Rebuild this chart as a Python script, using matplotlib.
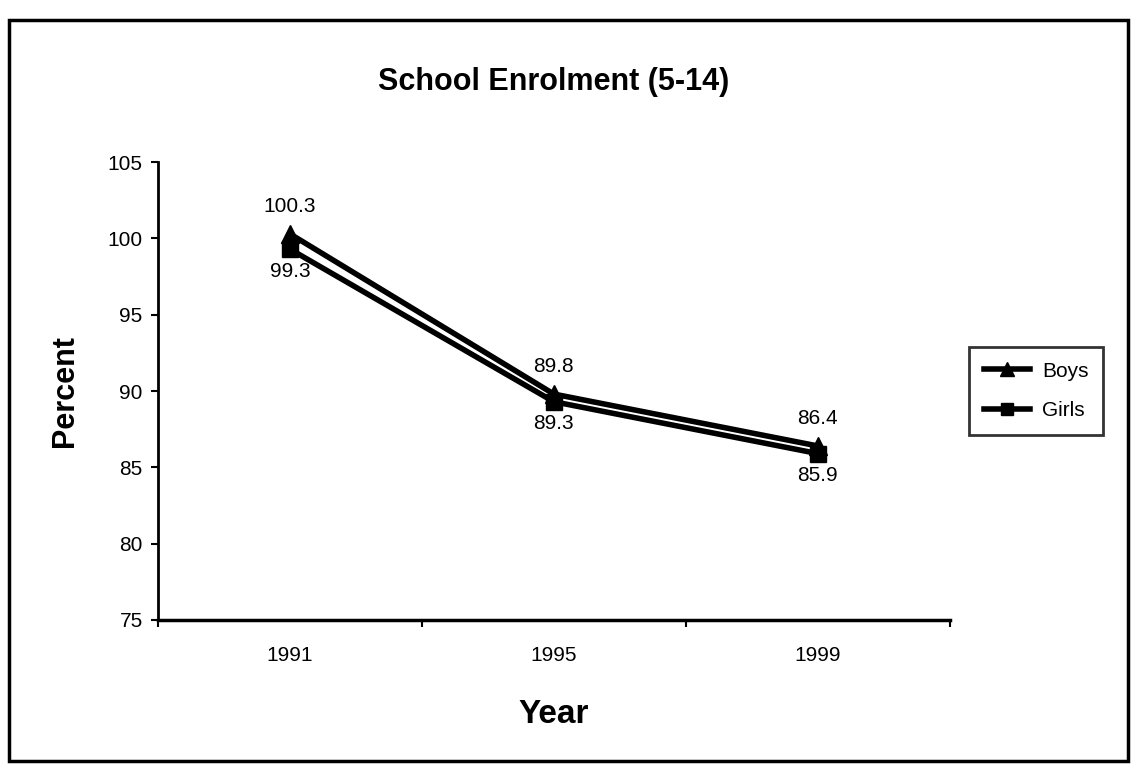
import matplotlib
matplotlib.use('Agg')
import matplotlib.pyplot as plt
from matplotlib.patches import Rectangle

plt.rcParams['font.family'] = ['Liberation Sans', 'DejaVu Sans']

years = ['1991', '1995', '1999']
boys = [100.3, 89.8, 86.4]
girls = [99.3, 89.3, 85.9]

fig = plt.figure(figsize=(11.36, 7.72), dpi=100)
ax = fig.add_axes([0.139, 0.197, 0.697, 0.593])

x = range(len(years))
ax.plot(x, boys, color='black', lw=4, marker='^', ms=13, label='Boys', zorder=3)
ax.plot(x, girls, color='black', lw=4, marker='s', ms=11, label='Girls', zorder=3)

# value labels: boys above, girls below
for i, v in enumerate(boys):
    ax.annotate(f'{v}', (i, v), xytext=(0, 13), textcoords='offset points',
                ha='center', va='bottom', fontsize=15)
for i, v in enumerate(girls):
    ax.annotate(f'{v}', (i, v), xytext=(0, -9), textcoords='offset points',
                ha='center', va='top', fontsize=15)

ax.set_xlim(-0.5, len(years) - 0.5)
ax.set_ylim(75, 105)
ax.set_yticks(range(75, 106, 5))
ax.set_xticks([i + 0.5 for i in range(-1, len(years))])
ax.set_xticklabels([])
ax.set_xticks(list(x), minor=True)
ax.set_xticklabels(years, minor=True, fontsize=15)
ax.tick_params(axis='x', which='minor', length=0, pad=19)
ax.tick_params(axis='x', which='major', direction='out', length=5, width=1.5)
ax.tick_params(axis='y', direction='out', length=5, width=1.5, labelsize=15, pad=6)

for side in ['top', 'right']:
    ax.spines[side].set_visible(False)
ax.spines['left'].set_linewidth(2)
ax.spines['bottom'].set_linewidth(2.5)

ax.set_title('School Enrolment (5-14)', fontsize=22, fontweight='bold', pad=52)
ax.set_ylabel('Percent', fontsize=22, fontweight='bold', labelpad=20)
ax.set_xlabel('Year', fontsize=24, fontweight='bold', labelpad=24)

leg = ax.legend(loc='center left', bbox_to_anchor=(1.025, 0.5), borderaxespad=0,
                fontsize=15, frameon=True, fancybox=False, handlelength=2.2,
                handletextpad=0.6, borderpad=0.7, labelspacing=1.0, markerscale=0.8)
leg.get_frame().set_edgecolor('black')
leg.get_frame().set_linewidth(2)

# outer frame of the chart area
fig.patches.append(Rectangle((0.008, 0.014), 0.985, 0.96, transform=fig.transFigure,
                             fill=False, edgecolor='black', lw=2.5))

fig.savefig('out.png', dpi=100)
